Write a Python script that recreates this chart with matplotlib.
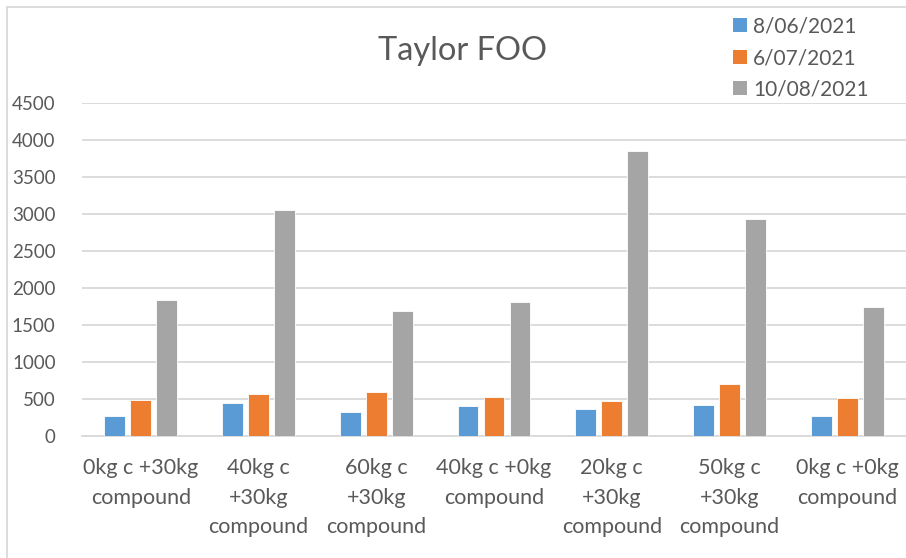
import numpy as np
import matplotlib.pyplot as plt
from matplotlib.patches import Patch, Rectangle

plt.rcParams['font.family'] = ['Lato', 'DejaVu Sans']

categories = ['0kg c +30kg\ncompound', '40kg c\n+30kg\ncompound', '60kg c\n+30kg\ncompound',
              '40kg c +0kg\ncompound', '20kg c\n+30kg\ncompound', '50kg c\n+30kg\ncompound',
              '0kg c +0kg\ncompound']
dates = ['8/06/2021', '6/07/2021', '10/08/2021']
jun = [270, 442, 325, 406, 361, 415, 267]
jul = [479, 568, 595, 524, 470, 704, 510]
aug = [1840, 3057, 1687, 1809, 3852, 2932, 1741]
colors = ['#5B9BD5', '#ED7D31', '#A5A5A5']
text_col = '#595959'
grid_col = '#D9D9D9'

fig = plt.figure(figsize=(9.06, 5.58), dpi=100)
ax = fig.add_axes([82/906, (558-435.7)/558, 824/906, (435.7-103)/558])

x = np.arange(len(categories))
pitch = 0.221
w = 0.178
for i, (vals, c) in enumerate(zip([jun, jul, aug], colors)):
    ax.bar(x + (i-1)*pitch, vals, width=w, color=c, edgecolor='white', linewidth=0.6, zorder=3)

ax.set_xlim(-0.5, len(categories)-0.5)
ax.set_ylim(0, 4500)
ax.set_yticks(np.arange(0, 4501, 500))
ax.yaxis.grid(True, color=grid_col, linewidth=1.3, zorder=0)
for s in ['top', 'right', 'left']:
    ax.spines[s].set_visible(False)
ax.spines['bottom'].set_color(grid_col)
ax.spines['bottom'].set_linewidth(1.3)
ax.set_xticks(x)
ax.set_xticklabels(categories, linespacing=1.6)
ax.tick_params(axis='both', length=0, colors=text_col)
ax.tick_params(axis='x', pad=16, labelsize=15.5)
ax.tick_params(axis='y', pad=19, labelsize=13.5)

fig.text(462/906, 1 - 51/558, 'Taylor FOO', ha='center', va='center', fontsize=23.5, color=text_col)

handles = [Patch(facecolor=c, edgecolor='none') for c in colors]
fig.legend(handles, dates, loc='upper left', bbox_to_anchor=(718/906, 1 - 2/558), frameon=False,
           fontsize=15, labelcolor=text_col, handlelength=0.68, handleheight=0.65, handletextpad=0.3,
           labelspacing=0.55, borderpad=0.2)

# chart area border
fig.patches.append(Rectangle((6.5/906, -0.1), 2, 1.1 - 7.5/558, transform=fig.transFigure,
                             fill=False, edgecolor=grid_col, linewidth=1.3, clip_on=False))

fig.savefig('out.png', dpi=100)
